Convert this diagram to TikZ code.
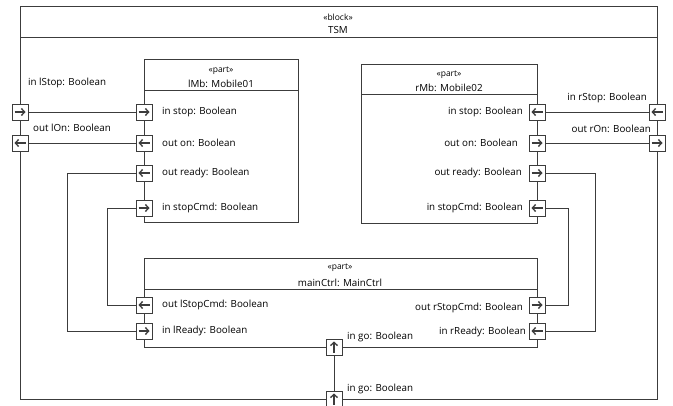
\documentclass[tikz,border=0pt]{standalone}
\usepackage{fontspec}
\setmainfont{Open Sans}
\usetikzlibrary{arrows.meta}

\definecolor{edge}{RGB}{60,60,60}

\tikzset{
  frameline/.style={draw=edge, line width=0.9pt},
  wire/.style={draw=edge, line width=0.9pt},
  lbl/.style={font=\fontsize{9.8}{11}\selectfont, inner sep=0pt, text=black},
  stereo/.style={font=\fontsize{8.5}{10}\selectfont, inner sep=0pt, text=black},
  title/.style={font=\fontsize{9.8}{11}\selectfont, inner sep=0pt, text=black},
  portbox/.style={draw=edge, fill=white, line width=0.9pt, minimum size=16pt, inner sep=0pt, shape=rectangle},
  arr/.style={line width=1.4pt, -{Straight Barb[length=3.2pt, width=7pt, line width=1.3pt]}},
  portR/.style={portbox, path picture={\draw[arr] ([xshift=-5.5pt]path picture bounding box.center) -- ([xshift=5.5pt]path picture bounding box.center);}},
  portL/.style={portbox, path picture={\draw[arr] ([xshift=5.5pt]path picture bounding box.center) -- ([xshift=-5.5pt]path picture bounding box.center);}},
  portU/.style={portbox, path picture={\draw[arr] ([yshift=-5.5pt]path picture bounding box.center) -- ([yshift=5.5pt]path picture bounding box.center);}},
}

\begin{document}
\begin{tikzpicture}[x=1pt, y=-1pt]
\useasboundingbox (0,0) rectangle (673,405);

% enclosing block TSM
\draw[frameline] (20,6) rectangle (657,399);
\draw[frameline] (20,37) -- (657,37);
\node[stereo] (tsmst) at (338,17) {«block»};
\node[title]  (tsmnm) at (338,30) {TSM};

% part lMb
\draw[frameline] (144,59) rectangle (298,222);
\draw[frameline] (144,90) -- (298,90);
\node[stereo] (lmbst) at (221,71) {«part»};
\node[title]  (lmbnm) at (221,84) {lMb: Mobile01};

% part rMb
\draw[frameline] (361,64) rectangle (537,223);
\draw[frameline] (361,94) -- (537,94);
\node[stereo] (rmbst) at (449,75) {«part»};
\node[title]  (rmbnm) at (449,88) {rMb: Mobile02};

% part mainCtrl
\draw[frameline] (144,258) rectangle (537,347);
\draw[frameline] (144,289) -- (537,289);
\node[stereo] (mcst) at (340,268) {«part»};
\node[title]  (mcnm) at (340,283) {mainCtrl: MainCtrl};

% ports on the TSM boundary
\node[portR] (tLStop) at (20,112) {};
\node[portL] (tLOn)   at (20,143) {};
\node[portL] (tRStop) at (657,112) {};
\node[portR] (tROn)   at (657,143) {};
\node[portU] (tGo)    at (334,399) {};

% ports of lMb
\node[portR] (lStop)  at (144,112) {};
\node[portL] (lOn)    at (144,143) {};
\node[portL] (lReady) at (144,173) {};
\node[portR] (lCmd)   at (144,208) {};

% ports of rMb
\node[portL] (rStop)  at (537,112) {};
\node[portR] (rOn)    at (537,143) {};
\node[portR] (rReady) at (537,173) {};
\node[portL] (rCmd)   at (537,208) {};

% ports of mainCtrl
\node[portL] (mLCmd)   at (144,305) {};
\node[portR] (mLReady) at (144,331) {};
\node[portR] (mRCmd)   at (537,305) {};
\node[portL] (mRReady) at (537,331) {};
\node[portU] (mGo)     at (334,347) {};

% connectors
\draw[wire] (tLStop.east) -- (lStop.west);
\draw[wire] (lOn.west) -- (tLOn.east);
\draw[wire] (tRStop.west) -- (rStop.east);
\draw[wire] (rOn.east) -- (tROn.west);
\draw[wire] (lReady.west) -- ++(-68,0) |- (mLReady.west);
\draw[wire] (lCmd.west) -- ++(-28,0) |- (mLCmd.west);
\draw[wire] (rReady.east) -- ++(50,0) |- (mRReady.east);
\draw[wire] (rCmd.east) -- ++(23,0) |- (mRCmd.east);
\draw[wire] (tGo.north) -- (mGo.south);

% labels of the boundary ports
\node[lbl, anchor=west] (tLStopL) at (28,83)  {in lStop: Boolean};
\node[lbl, anchor=west] (tLOnL)   at (33,128) {out lOn: Boolean};
\node[lbl, anchor=east] (tRStopL) at (647,98) {in rStop: Boolean};
\node[lbl, anchor=east] (tROnL)   at (651,129) {out rOn: Boolean};
\node[lbl, anchor=west] (tGoL)    at (347,389) {in go: Boolean};

% labels of lMb ports
\node[lbl, anchor=west] (lStopL)  at (162,112) {in stop: Boolean};
\node[lbl, anchor=west] (lOnL)    at (162,143) {out on: Boolean};
\node[lbl, anchor=west] (lReadyL) at (162,173) {out ready: Boolean};
\node[lbl, anchor=west] (lCmdL)   at (162,208) {in stopCmd: Boolean};

% labels of rMb ports
\node[lbl, anchor=east] (rStopL)  at (523,112) {in stop: Boolean};
\node[lbl, anchor=east] (rOnL)    at (518,143) {out on: Boolean};
\node[lbl, anchor=east] (rReadyL) at (522,173) {out ready: Boolean};
\node[lbl, anchor=east] (rCmdL)   at (523,208) {in stopCmd: Boolean};

% labels of mainCtrl ports
\node[lbl, anchor=west] (mLCmdL)   at (162,305) {out lStopCmd: Boolean};
\node[lbl, anchor=west] (mLReadyL) at (162,331) {in lReady: Boolean};
\node[lbl, anchor=east] (mRCmdL)   at (523,308) {out rStopCmd: Boolean};
\node[lbl, anchor=east] (mRReadyL) at (526,332) {in rReady: Boolean};
\node[lbl, anchor=west] (mGoL)     at (347,337) {in go: Boolean};
\end{tikzpicture}
\end{document}
